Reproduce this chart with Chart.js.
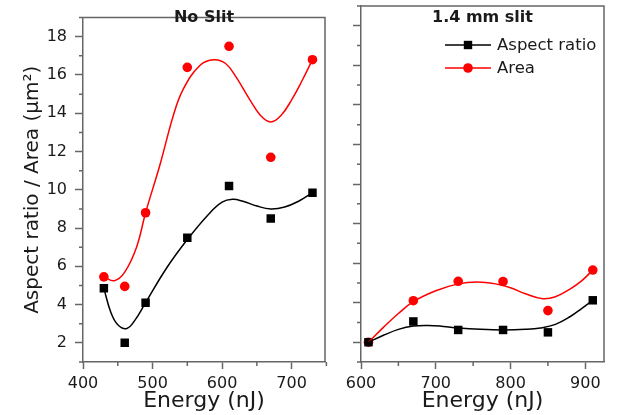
<!DOCTYPE html>
<html>
<head>
<meta charset="utf-8">
<script src="https://cdn.jsdelivr.net/npm/chart.js@4"></script>
<style>
html, body { margin: 0; padding: 0; background: #fff; }
.panel { position: absolute; top: 0; }
</style>
</head>
<body>
<div class="panel" style="left:0;width:330px;height:415px"><canvas id="left" width="330" height="415"></canvas></div>
<div class="panel" style="left:330px;width:298px;height:415px"><canvas id="right" width="298" height="415"></canvas></div>
<script>
// measured points
const noSlitEnergy = [430, 460, 490, 550, 610, 670, 730];
const noSlitAspect = [4.85, 2.0, 4.1, 7.5, 10.2, 8.5, 9.85];
const noSlitArea = [5.45, 4.95, 8.8, 16.4, 17.5, 11.7, 16.8];

const slitEnergy = [610, 670, 730, 790, 850, 910];
const slitAspect = [2.0, 3.05, 2.62, 2.62, 2.5, 4.12];
const slitArea = [2.0, 4.1, 5.08, 5.07, 3.6, 5.65];

// fitted curves
const noSlitAspectFitE = [430, 440, 450, 463, 475, 490, 520, 550, 580, 600, 615, 630, 650, 670, 690, 710, 730];
const noSlitAspectFit = [4.85, 3.6, 2.95, 2.75, 3.2, 4.1, 5.9, 7.4, 8.7, 9.35, 9.5, 9.4, 9.15, 9.0, 9.1, 9.4, 9.85];
const noSlitAreaFitE = [430, 445, 460, 477, 490, 511, 530, 544, 568, 588, 605, 620, 640, 655, 670, 685, 700, 715, 730];
const noSlitAreaFit = [5.45, 5.25, 5.7, 7.0, 8.8, 11.35, 13.9, 15.25, 16.5, 16.8, 16.6, 15.9, 14.7, 13.9, 13.55, 13.9, 14.7, 15.7, 16.8];

const slitAspectFitE = [610, 630, 650, 670, 690, 710, 730, 760, 790, 820, 840, 860, 880, 895, 910];
const slitAspectFit = [2.0, 2.35, 2.65, 2.82, 2.85, 2.8, 2.72, 2.65, 2.62, 2.65, 2.72, 2.9, 3.3, 3.7, 4.12];
const slitAreaFitE = [610, 630, 650, 670, 700, 730, 755, 780, 800, 820, 843, 860, 880, 895, 910];
const slitAreaFit = [2.0, 2.75, 3.45, 4.05, 4.6, 4.95, 5.05, 4.95, 4.75, 4.45, 4.2, 4.3, 4.7, 5.1, 5.65];

// ticks
const yTicks = [2, 4, 6, 8, 10, 12, 14, 16, 18];
const yMinor = [1, 3, 5, 7, 9, 11, 13, 15, 17, 19];
const noSlitTicks = [400, 500, 600, 700];
const noSlitMinor = [450, 550, 650, 750];
const slitTicks = [600, 700, 800, 900];
const slitMinor = [650, 750, 850];

const FONT = '"DejaVu Sans", sans-serif';
const AXIS = '#666';
const TEXT = '#1a1a1a';

const pts = (xs, ys) => xs.map((x, i) => ({ x: x, y: ys[i] }));

function datasets(e, asp, area, aspFitE, aspFit, areaFitE, areaFit) {
    return [
        { data: pts(aspFitE, aspFit), showLine: true, borderColor: '#000', borderWidth: 1.5, pointRadius: 0, tension: 0.4 },
        { data: pts(areaFitE, areaFit), showLine: true, borderColor: '#f00', borderWidth: 1.5, pointRadius: 0, tension: 0.4 },
        { data: pts(e, asp), pointStyle: 'rect', pointRadius: 6, backgroundColor: '#000', borderWidth: 0 },
        { data: pts(e, area), pointStyle: 'circle', pointRadius: 4.8, backgroundColor: '#f00', borderWidth: 0 },
    ];
}

function framePlugin(title, xMinor, legend) {
    return {
        id: 'frame',
        afterDraw(chart) {
            const { ctx, chartArea: a, scales: { x, y } } = chart;
            ctx.save();
            ctx.strokeStyle = AXIS;
            ctx.lineWidth = 1.5;
            ctx.beginPath();
            ctx.moveTo(a.left - 4, a.top);
            ctx.lineTo(a.right, a.top);
            ctx.lineTo(a.right, a.bottom);
            xMinor.forEach(v => {
                const px = x.getPixelForValue(v);
                ctx.moveTo(px, a.bottom);
                ctx.lineTo(px, a.bottom + 4);
            });
            yMinor.forEach(v => {
                const py = y.getPixelForValue(v);
                ctx.moveTo(a.left, py);
                ctx.lineTo(a.left - 4, py);
            });
            ctx.stroke();

            ctx.fillStyle = TEXT;
            ctx.font = 'bold 16px ' + FONT;
            ctx.textAlign = 'center';
            ctx.textBaseline = 'middle';
            ctx.fillText(title, (a.left + a.right) / 2, 18);

            if (legend) {
                const rows = [
                    { label: 'Aspect ratio', color: '#000', rect: true, y: 45 },
                    { label: 'Area', color: '#f00', rect: false, y: 68 },
                ];
                rows.forEach(r => {
                    ctx.strokeStyle = r.color;
                    ctx.lineWidth = 1.5;
                    ctx.beginPath();
                    ctx.moveTo(115, r.y);
                    ctx.lineTo(161, r.y);
                    ctx.stroke();
                    ctx.fillStyle = r.color;
                    if (r.rect) {
                        ctx.fillRect(138 - 4.2, r.y - 4.2, 8.4, 8.4);
                    } else {
                        ctx.beginPath();
                        ctx.arc(138, r.y, 4.8, 0, Math.PI * 2);
                        ctx.fill();
                    }
                    ctx.fillStyle = TEXT;
                    ctx.font = '16.5px ' + FONT;
                    ctx.textAlign = 'left';
                    ctx.fillText(r.label, 167, r.y + 1);
                });
            }
            ctx.restore();
        },
    };
}

function makeChart(id, opts) {
    return new Chart(document.getElementById(id), {
        type: 'scatter',
        data: { datasets: opts.datasets },
        options: {
            responsive: false,
            animation: false,
            layout: { autoPadding: false, padding: { top: 6, right: opts.padRight, left: 0, bottom: 0 } },
            plugins: { legend: { display: false }, tooltip: { enabled: false } },
            scales: {
                x: {
                    type: 'linear',
                    min: opts.xMin,
                    max: opts.xMax,
                    afterBuildTicks: s => { s.ticks = opts.xTicks.map(v => ({ value: v })); },
                    afterFit: s => { s.height = 53; },
                    grid: { drawOnChartArea: false, drawTicks: true, tickLength: 7, tickColor: AXIS, tickWidth: 1.5 },
                    border: { display: true, color: AXIS, width: 1.5 },
                    ticks: { color: TEXT, font: { family: FONT, size: 16 }, padding: 5, maxRotation: 0 },
                    title: { display: true, text: 'Energy (nJ)', color: TEXT, font: { family: FONT, size: 22 }, padding: { top: 0, bottom: 1 } },
                },
                y: {
                    min: 1,
                    max: 19,
                    afterBuildTicks: s => { s.ticks = yTicks.map(v => ({ value: v })); },
                    afterFit: s => { s.width = opts.yWidth; },
                    grid: { drawOnChartArea: false, drawTicks: true, tickLength: 8, tickColor: AXIS, tickWidth: 1.5 },
                    border: { display: true, color: AXIS, width: 1.5 },
                    ticks: { display: opts.yLabels, color: TEXT, font: { family: FONT, size: 16 }, padding: 8 },
                    title: {
                        display: opts.yLabels,
                        text: 'Aspect ratio / Area (μm²)',
                        color: TEXT,
                        font: { family: FONT, size: 20 },
                        padding: { top: 21, bottom: 0 },
                    },
                },
            },
        },
        plugins: [framePlugin(opts.title, opts.xMinor, opts.legend)],
    });
}

makeChart('left', {
    datasets: datasets(noSlitEnergy, noSlitAspect, noSlitArea, noSlitAspectFitE, noSlitAspectFit, noSlitAreaFitE, noSlitAreaFit),
    xMin: 400, xMax: 748, xTicks: noSlitTicks, xMinor: noSlitMinor,
    padRight: 5, yWidth: 83, yLabels: true, title: 'No Slit', legend: false,
});

makeChart('right', {
    datasets: datasets(slitEnergy, slitAspect, slitArea, slitAspectFitE, slitAspectFit, slitAreaFitE, slitAreaFit),
    xMin: 600, xMax: 925, xTicks: slitTicks, xMinor: slitMinor,
    padRight: 24, yWidth: 31, yLabels: false, title: '1.4 mm slit', legend: true,
});
</script>
</body>
</html>
